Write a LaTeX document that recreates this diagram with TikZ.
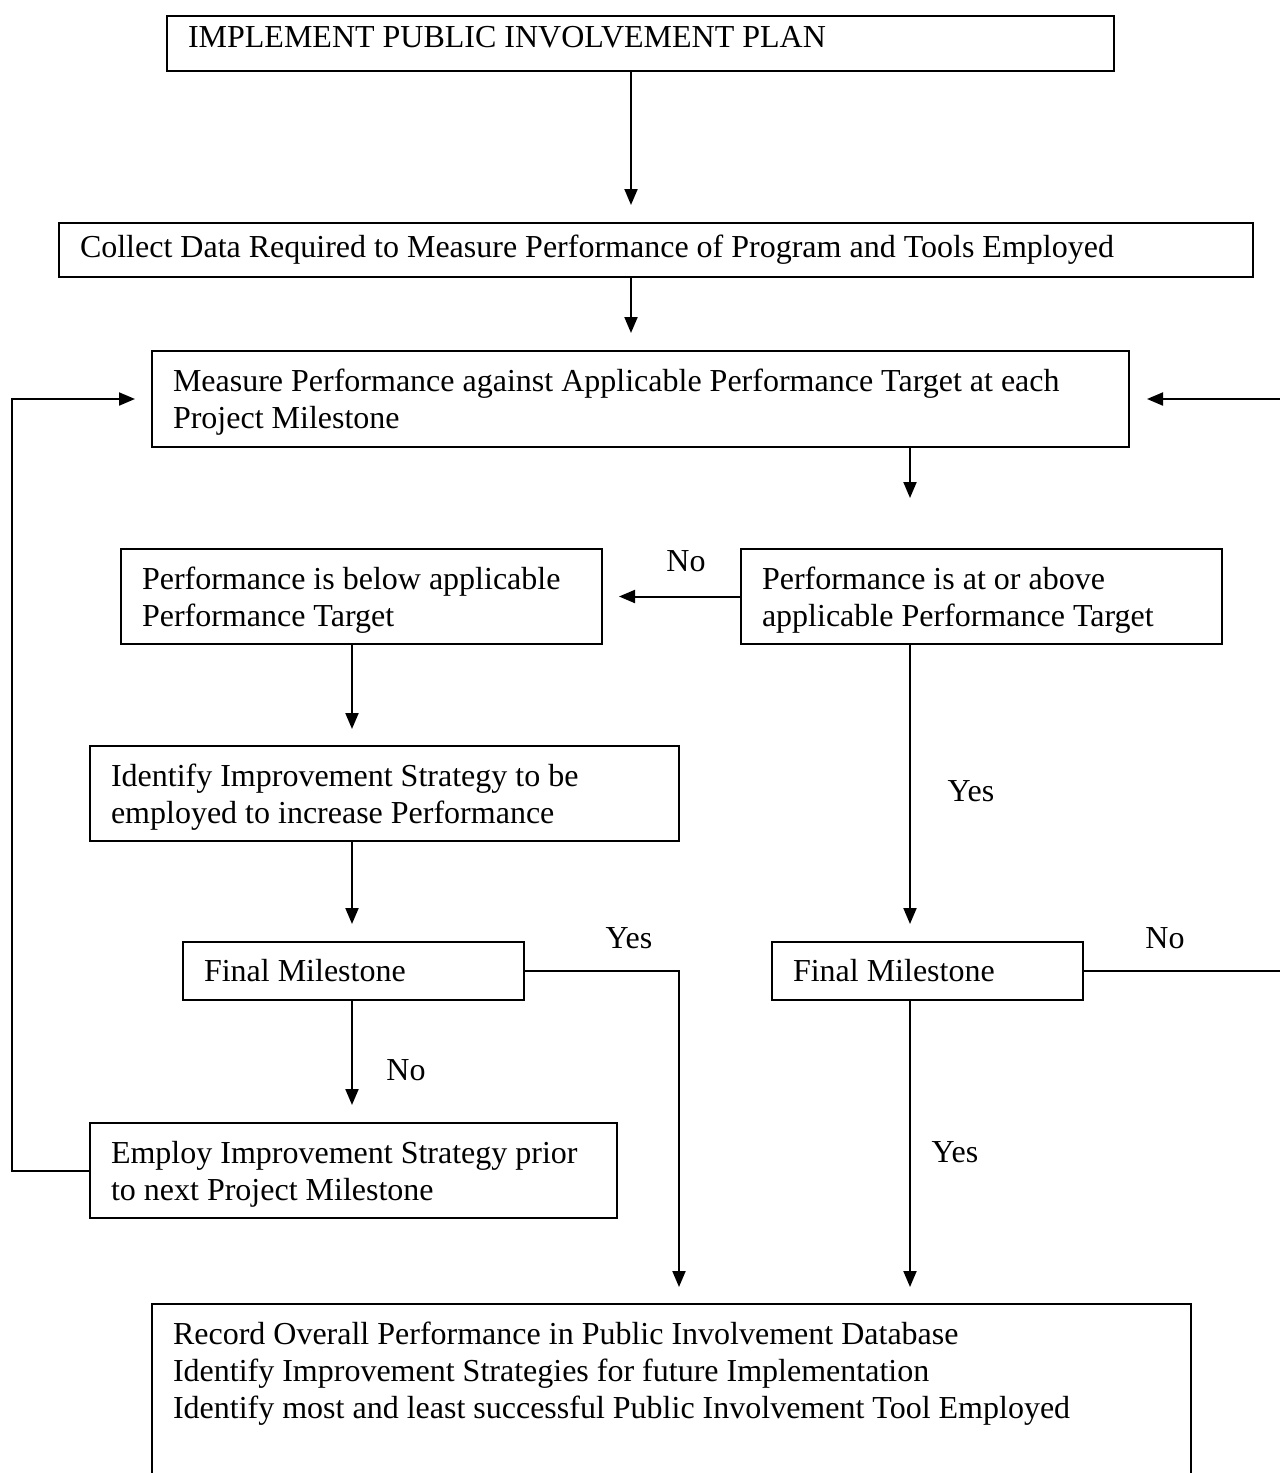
\documentclass[tikz,border=0pt]{standalone}
\usepackage{fontspec}
\setmainfont{Liberation Serif}
\usetikzlibrary{arrows.meta,calc}
\begin{document}
\begin{tikzpicture}[x=1pt,y=-1pt,
  txt/.style={font=\fontsize{32}{37}\selectfont},
  box/.style={draw, line width=2pt, txt, inner xsep=21pt, inner ysep=0pt, align=flush left, anchor=north west},
  twoline/.style={text depth=37pt},
  arr/.style={line width=2pt, -{Triangle[length=16pt,width=13pt]}},
  ln/.style={line width=2pt}
]
\useasboundingbox (0,0) rectangle (1280,1473);
\fill[white] (0,0) rectangle (1280,1473);

% boxes
\node[box, text width=905pt, minimum height=55pt, text depth=14pt] (top) at (166,15) {IMPLEMENT PUBLIC INVOLVEMENT PLAN};
\node[box, text width=1152pt, minimum height=54pt] (collect) at (58,222) {Collect Data Required to Measure Performance of Program and Tools Employed};
\node[box, twoline, text width=935pt, minimum height=96pt] (measure) at (151,350) {Measure Performance against Applicable Performance Target at each\\Project Milestone};
\node[box, twoline, text width=439pt, minimum height=95pt] (below) at (120,548) {Performance is below applicable\\Performance Target};
\node[box, twoline, text width=439pt, minimum height=95pt] (above) at (740,548) {Performance is at or above\\applicable Performance Target};
\node[box, twoline, text width=547pt, minimum height=95pt] (ident) at (89,745) {Identify Improvement Strategy to be\\employed to increase Performance};
\node[box, text width=299pt, minimum height=58pt] (fml) at (182,941) {Final Milestone};
\node[box, text width=269pt, minimum height=58pt] (fmr) at (771,941) {Final Milestone};
\node[box, twoline, text width=485pt, minimum height=95pt] (employ) at (89,1122) {Employ Improvement Strategy prior\\to next Project Milestone};
\node[draw, line width=2pt, txt, inner xsep=21pt, inner ysep=18pt, anchor=north west] (bottom) at (151,1303)
  {\begin{minipage}[t][230pt][t]{997pt}\raggedright
   Record Overall Performance in Public Involvement Database\\
   Identify Improvement Strategies for future Implementation\\
   Identify most and least successful Public Involvement Tool Employed
   \end{minipage}};

% x positions
\coordinate (xa) at (631,0);
\coordinate (xb) at (910,0);
\coordinate (xc) at (352,0);
\coordinate (xd) at (679,0);
\coordinate (xr) at (1292,0);
\coordinate (xl) at (12,0);

% connectors
\draw[arr, shorten >=17pt] (top.south -| xa) -- (collect.north -| xa);
\draw[arr, shorten >=17pt] (collect.south -| xa) -- (measure.north -| xa);
\draw[arr, shorten >=50pt] (measure.south -| xb) -- (above.north -| xb);
\draw[arr, shorten >=16pt] (above.west) -- (below.east);
\draw[arr, shorten >=16pt] (below.south -| xc) -- (ident.north -| xc);
\draw[arr, shorten >=17pt] (ident.south -| xc) -- (fml.north -| xc);
\draw[arr, shorten >=17pt] (fml.south -| xc) -- (employ.north -| xc);
\draw[arr, shorten >=17pt] (above.south -| xb) -- (fmr.north -| xb);
\draw[arr, shorten >=16pt] (fmr.south -| xb) -- (bottom.north -| xb);
\draw[arr, shorten >=16pt] (fml.east) -| (bottom.north -| xd);
\draw[arr, shorten >=17pt] (fmr.east) -- (fmr.east -| xr) |- (measure.east);
\draw[arr, shorten >=16pt] (employ.west) -- (employ.west -| xl) |- (measure.west);

% labels
\node[txt] (l1) at (686,561) {No};
\node[txt] (l2) at (629,938) {Yes};
\node[txt] (l3) at (971,791) {Yes};
\node[txt] (l4) at (406,1070) {No};
\node[txt] (l5) at (955,1152) {Yes};
\node[txt] (l6) at (1165,938) {No};
\end{tikzpicture}
\end{document}
